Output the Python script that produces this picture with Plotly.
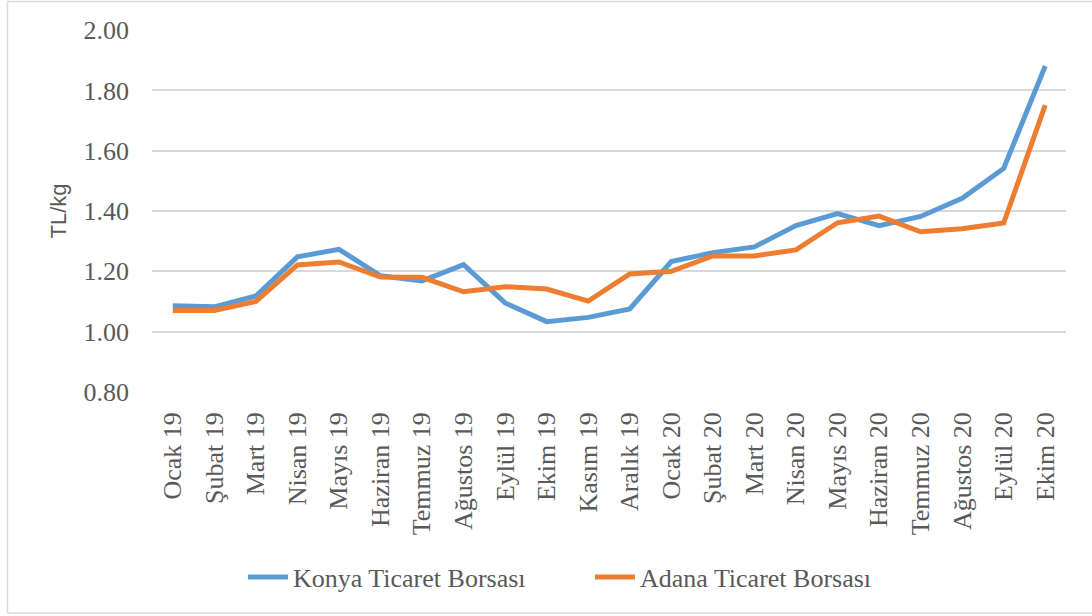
import plotly.graph_objects as go

months = ["Ocak 19", "Şubat 19", "Mart 19", "Nisan 19", "Mayıs 19", "Haziran 19",
          "Temmuz 19", "Ağustos 19", "Eylül 19", "Ekim 19", "Kasım 19", "Aralık 19",
          "Ocak 20", "Şubat 20", "Mart 20", "Nisan 20", "Mayıs 20", "Haziran 20",
          "Temmuz 20", "Ağustos 20", "Eylül 20", "Ekim 20"]

konya = [1.086, 1.082, 1.118, 1.248, 1.273, 1.185, 1.168, 1.222, 1.095, 1.033,
         1.047, 1.075, 1.232, 1.262, 1.281, 1.352, 1.391, 1.351, 1.382, 1.442,
         1.541, 1.881]
adana = [1.070, 1.070, 1.100, 1.221, 1.231, 1.181, 1.180, 1.132, 1.149, 1.141,
         1.101, 1.191, 1.200, 1.251, 1.251, 1.271, 1.361, 1.383, 1.331, 1.341,
         1.360, 1.751]

y_ticks = [0.8, 1.0, 1.2, 1.4, 1.6, 1.8, 2.0]
y_tick_labels = ["0.80", "1.00", "1.20", "1.40", "1.60", "1.80", "2.00"]

L, R, T, B = 152, 26, 30, 224
W, H = 1092, 616
pw, ph = W - L - R, H - T - B

fig = go.Figure()
fig.add_trace(go.Scatter(x=months, y=konya, mode="lines", name="Konya Ticaret Borsası",
                         line=dict(color="#5B9BD5", width=5)))
fig.add_trace(go.Scatter(x=months, y=adana, mode="lines", name="Adana Ticaret Borsası",
                         line=dict(color="#ED7D31", width=5)))

serif = "Liberation Serif, Times New Roman, serif"

fig.update_layout(
    width=W, height=H,
    margin=dict(l=L, r=R, t=T, b=B, autoexpand=False),
    paper_bgcolor="white", plot_bgcolor="white",
    font=dict(family=serif, color="#595959", size=26),
    showlegend=True,
    legend=dict(orientation="h", x=(590 - L) / pw, xanchor="center",
                y=(H - B - 577) / ph, yanchor="middle",
                font=dict(family=serif, size=26, color="#595959"),
                bgcolor="rgba(0,0,0,0)", itemwidth=40, entrywidth=292,
                tracegroupgap=0),
    xaxis=dict(type="category", range=[-0.5, len(months) - 0.5], tickangle=-90,
               showgrid=False, zeroline=False, showline=False, ticks="",
               tickfont=dict(family=serif, size=26, color="#595959"),
               ticklabelstandoff=14, automargin=False),
    yaxis=dict(range=[0.7995, 2.0005], tickvals=y_ticks, ticktext=y_tick_labels,
               showgrid=True, gridcolor="#D9D9D9", gridwidth=1.5, zeroline=False,
               showline=False, ticks="", tickfont=dict(family=serif, size=26, color="#595959"),
               ticklabelstandoff=22, automargin=False,
               title=dict(text="TL/kg", standoff=10,
                          font=dict(family="Liberation Sans, Arial, sans-serif", size=22,
                                    color="#595959"))),
)

fig.add_shape(type="rect", xref="paper", yref="paper",
              x0=(7.5 - L) / pw, x1=(1100 - L) / pw,
              y0=(H - B - 613) / ph, y1=(H - B - 1.5) / ph,
              line=dict(color="#D9D9D9", width=1.5), fillcolor="rgba(0,0,0,0)", layer="below")

fig.write_html("out.html", config={"displayModeBar": False},
               post_script="document.body.style.margin='0';document.body.style.overflow='hidden';")
